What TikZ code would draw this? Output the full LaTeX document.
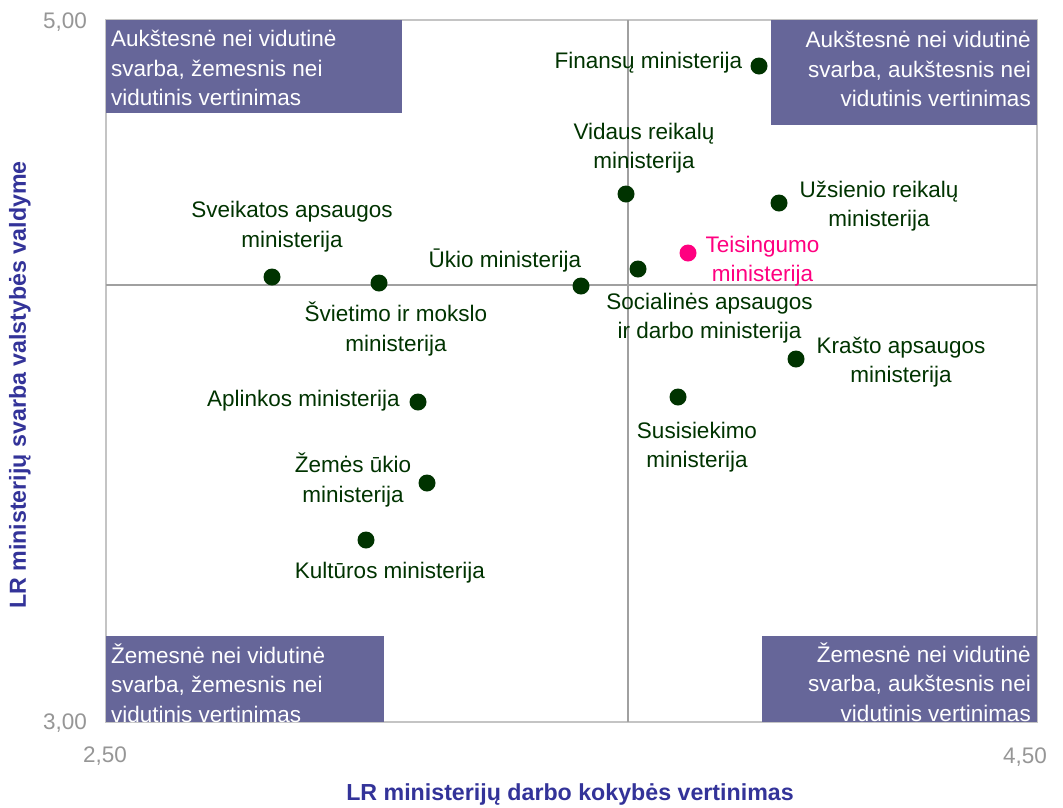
\documentclass[tikz,border=0pt]{standalone}
\usepackage{fontspec}
\setmainfont{Liberation Sans}
\definecolor{boxc}{HTML}{666699}
\definecolor{dotc}{HTML}{003300}
\definecolor{pinkc}{HTML}{FF0080}
\definecolor{titlec}{HTML}{333399}
\definecolor{tickc}{HTML}{969696}
\definecolor{gridc}{HTML}{A0A0A0}
\definecolor{borderc}{HTML}{C4C4C4}
\begin{document}
\begin{tikzpicture}[x=1pt,y=-1pt,
  every node/.style={font=\fontsize{22.5}{29.5}\selectfont, inner sep=0pt},
  mdot/.style={circle, fill=dotc, minimum size=17pt, inner sep=0pt},
  pdot/.style={mdot, fill=pinkc},
  lbl/.style={text=dotc, align=center},
  plbl/.style={text=pinkc, align=center},
  qbox/.style={fill=boxc, anchor=north west, inner sep=0pt},
  qtextl/.style={text=white, align=left, anchor=west},
  qtextr/.style={text=white, align=right, anchor=east},
  tick/.style={text=tickc},
  axtitle/.style={text=titlec, font=\fontsize{23.2}{29}\selectfont\bfseries},
  midline/.style={draw=gridc, line width=1.6pt},
  frame/.style={draw=borderc, line width=1.2pt}
]
\useasboundingbox (0,0) rectangle (1063,807);
\fill[white] (0,0) rectangle (1063,807);

% plot area
\coordinate (pTL) at (106,20);
\coordinate (pBR) at (1037,722);
\coordinate (vT) at (628,20);
\coordinate (vB) at (628,722);
\coordinate (hL) at (106,285);
\coordinate (hR) at (1037,285);
\draw[frame] (pTL) rectangle (pBR);
\draw[midline] (vT) -- (vB);
\draw[midline] (hL) -- (hR);

% quadrant boxes
\node[qbox, minimum width=296pt, minimum height=93pt] (tl) at (106,20) {};
\node[qtextl] (tlt) at (111,68) {Aukštesnė nei vidutinė\\svarba, žemesnis nei\\vidutinis vertinimas};
\node[qbox, minimum width=266pt, minimum height=105pt] (tr) at (771,20) {};
\node[qtextr] (trt) at (1031,69) {Aukštesnė nei vidutinė\\svarba, aukštesnis nei\\vidutinis vertinimas};
\node[qbox, minimum width=278pt, minimum height=86pt] (bl) at (106,636) {};
\node[qtextl] (blt) at (111,683) {Žemesnė nei vidutinė\\svarba, žemesnis nei\\vidutinis vertinimas};
\node[qbox, minimum width=275pt, minimum height=86pt] (br) at (762,636) {};
\node[qtextr] (brt) at (1031,682) {Žemesnė nei vidutinė\\svarba, aukštesnis nei\\vidutinis vertinimas};

% ticks
\node[tick, anchor=east] (y5) at (87,22) {5,00};
\node[tick, anchor=east] (y3) at (87,723) {3,00};
\node[tick] (x25) at (105,756) {2,50};
\node[tick] (x45) at (1025,757) {4,50};

% axis titles
\node[axtitle] (xt) at (570,794) {LR ministerijų darbo kokybės vertinimas};
\node[axtitle, rotate=90] (yt) at (20,385) {LR ministerijų svarba valstybės valdyme};

% data points
\node[mdot] (fin) at (759,66) {};
\node[mdot] (vid) at (626,194) {};
\node[mdot] (uzs) at (779,203) {};
\node[pdot] (tei) at (688,253) {};
\node[mdot] (soc) at (638,269) {};
\node[mdot] (uki) at (581,286) {};
\node[mdot] (sve) at (272,277) {};
\node[mdot] (svi) at (379,283) {};
\node[mdot] (apl) at (418,402) {};
\node[mdot] (zem) at (427,483) {};
\node[mdot] (kul) at (366,540) {};
\node[mdot] (kra) at (796,359) {};
\node[mdot] (sus) at (678,397) {};

% labels
\node[lbl] (finl) at (648.5,63) {Finansų ministerija};
\node[lbl] (vidl) at (644,148) {Vidaus reikalų\\ministerija};
\node[lbl] (uzsl) at (879,206) {Užsienio reikalų\\ministerija};
\node[plbl] (teil) at (762.5,261) {Teisingumo\\ministerija};
\node[lbl] (socl) at (709.5,318) {Socialinės apsaugos\\ir darbo ministerija};
\node[lbl] (ukil) at (505,261) {Ūkio ministerija};
\node[lbl] (svel) at (292,226.5) {Sveikatos apsaugos\\ministerija};
\node[lbl] (svil) at (396,329) {Švietimo ir mokslo\\ministerija};
\node[lbl] (apll) at (303.5,401) {Aplinkos ministerija};
\node[lbl] (zeml) at (353,480) {Žemės ūkio\\ministerija};
\node[lbl] (kull) at (390,573) {Kultūros ministerija};
\node[lbl] (kral) at (901,362) {Krašto apsaugos\\ministerija};
\node[lbl] (susl) at (697,447) {Susisiekimo\\ministerija};
\end{tikzpicture}
\end{document}
